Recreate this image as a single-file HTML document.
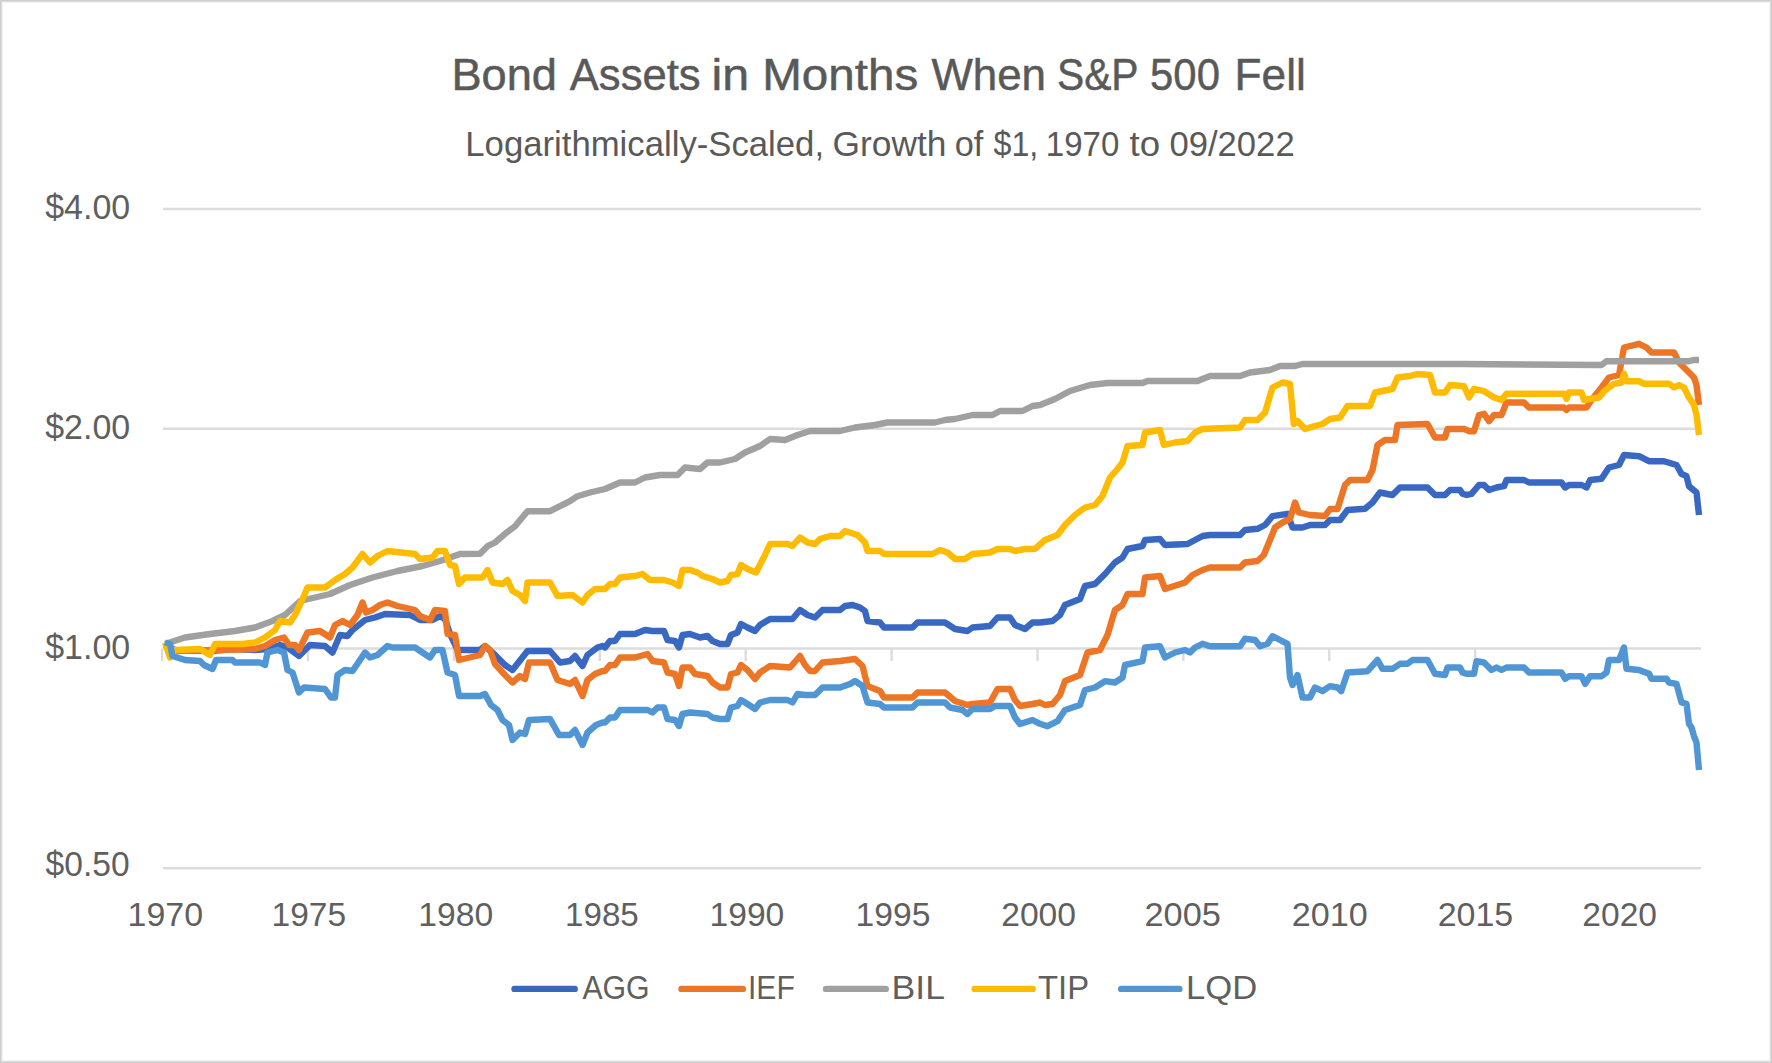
<!DOCTYPE html>
<html><head><meta charset="utf-8"><style>
html,body{margin:0;padding:0;background:#fff;}
body{width:1772px;height:1063px;position:relative;overflow:hidden;font-family:"Liberation Sans",sans-serif;}
.frame{position:absolute;left:0;top:0;width:1772px;height:1063px;box-sizing:border-box;box-shadow:inset 0 0 0 1px #cecece, inset 0 0 0 2px #dcdcdc, inset 0 0 0 3px #f3f3f3;z-index:5;}
</style></head><body>
<svg width="1772" height="1063" viewBox="0 0 1772 1063" style="position:absolute;left:0;top:0"><line x1="163" y1="209.0" x2="1701" y2="209.0" stroke="#DCDCDC" stroke-width="2.4"/><line x1="163" y1="428.8" x2="1701" y2="428.8" stroke="#DCDCDC" stroke-width="2.4"/><line x1="163" y1="648.5" x2="1701" y2="648.5" stroke="#DCDCDC" stroke-width="2.4"/><line x1="163" y1="868.2" x2="1701" y2="868.2" stroke="#DCDCDC" stroke-width="2.4"/><line x1="162.1" y1="648.5" x2="162.1" y2="661.0" stroke="#DCDCDC" stroke-width="2.4"/><line x1="308.0" y1="648.5" x2="308.0" y2="661.0" stroke="#DCDCDC" stroke-width="2.4"/><line x1="453.9" y1="648.5" x2="453.9" y2="661.0" stroke="#DCDCDC" stroke-width="2.4"/><line x1="599.8" y1="648.5" x2="599.8" y2="661.0" stroke="#DCDCDC" stroke-width="2.4"/><line x1="745.7" y1="648.5" x2="745.7" y2="661.0" stroke="#DCDCDC" stroke-width="2.4"/><line x1="891.6" y1="648.5" x2="891.6" y2="661.0" stroke="#DCDCDC" stroke-width="2.4"/><line x1="1037.5" y1="648.5" x2="1037.5" y2="661.0" stroke="#DCDCDC" stroke-width="2.4"/><line x1="1183.4" y1="648.5" x2="1183.4" y2="661.0" stroke="#DCDCDC" stroke-width="2.4"/><line x1="1329.3" y1="648.5" x2="1329.3" y2="661.0" stroke="#DCDCDC" stroke-width="2.4"/><line x1="1475.2" y1="648.5" x2="1475.2" y2="661.0" stroke="#DCDCDC" stroke-width="2.4"/><line x1="1621.1" y1="648.5" x2="1621.1" y2="661.0" stroke="#DCDCDC" stroke-width="2.4"/><polyline fill="none" stroke="#3868C2" stroke-width="6.4" stroke-linejoin="round" stroke-linecap="butt" points="165.0,645.0 175.0,650.0 210.0,651.0 235.0,649.0 255.0,650.0 267.5,649.0 280.0,645.0 287.5,647.5 299.0,656.0 310.0,645.0 325.0,646.0 332.5,652.5 340.0,635.0 347.5,636.0 352.5,630.0 365.0,620.0 375.0,617.5 385.0,614.0 410.0,615.0 420.0,620.0 432.5,620.0 440.0,616.0 445.0,619.0 450.0,634.0 457.5,650.0 480.0,650.0 485.0,646.0 495.0,655.0 505.0,665.0 512.5,670.0 527.5,651.0 550.0,651.0 560.0,662.5 570.0,661.0 575.0,656.0 582.5,666.0 587.5,655.0 597.5,647.5 602.5,646.0 605.0,647.5 610.0,641.0 615.0,641.0 620.0,634.0 635.0,634.0 645.0,630.0 652.5,631.0 664.0,631.0 667.5,640.0 675.0,641.0 679.0,647.5 682.5,635.0 690.0,634.0 700.0,637.5 707.5,636.0 712.5,641.0 720.0,644.0 727.5,644.0 731.0,635.0 737.5,632.5 741.0,624.0 747.5,627.5 755.0,631.0 760.0,625.0 770.0,619.0 792.5,619.0 800.0,610.0 807.5,615.0 815.0,617.5 822.5,610.0 840.0,610.0 845.0,606.0 852.5,605.0 860.0,607.5 865.0,611.0 867.5,621.0 880.0,622.5 884.0,627.5 912.5,627.5 917.5,622.5 945.0,622.5 955.0,629.0 967.5,631.0 972.5,627.5 990.0,626.0 997.5,617.5 1010.0,617.5 1015.0,625.0 1025.0,629.0 1032.5,622.5 1040.0,622.5 1052.5,621.0 1060.0,615.0 1065.0,605.0 1080.0,599.0 1085.0,586.0 1095.0,584.0 1105.0,574.0 1115.0,562.5 1122.5,557.5 1127.5,549.0 1142.5,546.0 1145.0,540.0 1160.0,539.0 1165.0,545.0 1187.5,544.0 1195.0,540.0 1202.5,536.0 1210.0,535.0 1240.0,535.0 1245.0,530.0 1257.5,528.8 1265.0,525.0 1272.5,516.2 1287.5,513.8 1292.5,527.5 1302.5,527.5 1310.0,525.0 1325.0,525.0 1330.0,520.0 1340.0,520.0 1347.5,510.0 1365.0,508.8 1372.5,502.5 1380.0,492.5 1392.5,495.0 1400.0,487.5 1427.5,487.5 1435.0,495.0 1445.0,495.0 1450.0,490.0 1460.0,490.0 1462.5,493.8 1466.5,495.0 1471.5,493.8 1479.0,485.0 1484.0,485.0 1489.0,490.0 1496.5,487.5 1504.0,486.2 1506.5,480.0 1524.0,480.0 1529.0,482.5 1561.5,482.5 1565.2,487.5 1569.0,485.0 1581.5,485.0 1586.5,487.5 1590.2,480.0 1601.5,478.8 1609.0,467.5 1619.0,465.0 1624.0,455.0 1639.0,456.2 1649.0,461.2 1664.0,461.2 1676.5,465.0 1681.5,473.8 1686.5,476.2 1689.0,486.2 1696.5,492.5 1699.0,515.0"/><polyline fill="none" stroke="#EC7626" stroke-width="6.4" stroke-linejoin="round" stroke-linecap="butt" points="165.0,645.0 175.0,651.0 255.0,649.0 265.0,646.0 275.0,640.0 284.0,637.5 289.0,645.0 295.0,645.0 299.0,650.0 307.5,632.5 320.0,631.0 330.0,637.5 335.0,625.0 342.5,621.0 350.0,625.0 357.5,615.0 362.5,602.5 366.0,612.5 372.5,610.0 380.0,605.0 387.5,602.5 397.5,606.0 415.0,610.0 420.0,616.0 430.0,620.0 435.0,610.0 445.0,611.0 447.5,634.0 455.0,635.0 459.0,660.0 480.0,655.0 485.0,646.0 490.0,650.0 495.0,664.0 505.0,675.0 512.5,682.5 520.0,676.0 525.0,679.0 529.0,662.5 550.0,662.5 557.5,680.0 570.0,684.0 575.0,680.0 582.5,696.0 587.5,680.0 595.0,674.0 602.5,671.0 605.0,671.0 610.0,665.0 615.0,665.0 620.0,657.5 635.0,657.5 647.5,654.0 652.5,661.0 664.0,662.5 667.5,672.5 675.0,674.0 679.0,686.0 682.5,667.5 690.0,667.5 695.0,674.0 707.5,676.0 712.5,682.5 720.0,687.5 727.5,687.5 731.0,674.0 737.5,672.5 741.0,665.0 747.5,670.0 755.0,679.0 760.0,672.5 770.0,666.0 790.0,667.5 800.0,656.0 805.0,665.0 810.0,671.0 815.0,671.0 822.5,662.5 840.0,661.0 855.0,659.0 862.5,666.0 867.5,686.0 880.0,691.0 884.0,697.5 912.5,697.5 917.5,692.5 945.0,692.5 955.0,701.0 967.5,705.0 972.5,704.0 990.0,702.5 997.5,689.0 1010.0,689.0 1015.0,700.0 1020.0,706.0 1032.5,704.0 1040.0,702.5 1045.0,705.0 1052.5,704.0 1060.0,695.0 1065.0,681.0 1080.0,675.0 1087.5,652.5 1100.0,650.0 1107.5,635.0 1115.0,610.0 1122.5,605.0 1127.5,594.0 1142.5,594.0 1145.0,577.5 1160.0,576.0 1165.0,589.0 1185.0,582.5 1192.5,575.0 1202.5,570.0 1210.0,567.5 1240.0,567.5 1245.0,562.5 1257.5,561.0 1263.8,555.0 1270.0,540.0 1275.0,527.5 1282.5,522.5 1290.0,519.0 1295.0,502.5 1298.8,512.5 1310.0,515.0 1325.0,516.0 1330.0,509.0 1337.5,509.0 1345.0,485.0 1350.0,480.0 1367.5,480.0 1372.5,470.0 1377.5,445.0 1385.0,440.0 1395.0,440.0 1397.5,425.0 1427.5,424.0 1435.0,437.5 1445.0,437.5 1447.5,429.0 1462.5,429.0 1464.0,428.8 1469.0,431.2 1474.0,431.2 1479.0,415.0 1484.0,413.8 1489.0,421.2 1494.0,415.0 1501.5,415.0 1506.5,402.5 1524.0,402.5 1529.0,407.5 1564.0,407.5 1566.5,410.0 1569.0,407.5 1586.5,407.5 1591.5,400.0 1601.5,387.5 1609.0,377.5 1619.0,375.0 1624.0,347.5 1639.0,343.8 1646.5,347.5 1651.5,352.5 1674.0,352.5 1679.0,362.5 1686.5,370.0 1694.0,377.5 1696.5,385.0 1699.0,405.0"/><polyline fill="none" stroke="#A0A0A0" stroke-width="6.4" stroke-linejoin="round" stroke-linecap="butt" points="165.0,644.0 185.0,637.5 210.0,634.0 235.0,631.0 255.0,627.5 272.5,621.0 285.0,615.0 300.0,601.0 315.0,597.5 330.0,594.0 350.0,585.0 372.5,577.5 397.5,571.0 422.5,566.0 440.0,561.0 460.0,554.0 480.0,553.8 487.5,546.2 495.0,542.5 505.0,533.8 515.0,526.2 527.5,511.2 550.0,511.2 560.0,506.2 570.0,501.2 577.5,496.2 590.0,492.5 605.0,489.0 620.0,482.5 635.0,482.5 645.0,477.5 660.0,475.0 677.5,475.0 685.0,467.5 700.0,469.0 707.5,462.5 720.0,462.5 735.0,459.0 745.0,452.5 760.0,446.0 770.0,439.0 785.0,440.0 797.5,435.0 810.0,431.0 840.0,431.0 855.0,427.5 875.0,425.0 887.5,422.5 935.0,422.5 945.0,420.0 955.0,419.0 972.5,415.0 992.5,415.0 1000.0,411.0 1022.5,411.0 1032.5,406.0 1040.0,405.0 1055.0,399.0 1070.0,391.0 1090.0,385.0 1107.5,383.0 1142.5,383.0 1147.5,381.0 1197.5,381.0 1210.0,376.0 1240.0,376.0 1250.0,372.5 1270.0,370.0 1280.0,366.0 1295.0,366.0 1302.5,364.0 1462.5,364.0 1601.5,365.0 1606.5,361.2 1689.0,361.2 1694.0,360.0 1699.0,360.0"/><polyline fill="none" stroke="#FFBB00" stroke-width="6.4" stroke-linejoin="round" stroke-linecap="butt" points="165.0,642.5 170.0,657.5 175.0,650.0 200.0,649.0 210.0,655.0 215.0,644.0 242.5,644.0 255.0,642.5 265.0,637.5 275.0,630.0 280.0,621.0 290.0,622.5 295.0,615.0 301.0,602.5 307.5,587.5 325.0,587.5 335.0,580.0 345.0,574.0 352.5,567.5 362.5,554.0 370.0,562.5 377.5,556.0 387.5,551.0 415.0,554.0 420.0,559.0 432.5,557.5 437.5,551.0 445.0,551.0 450.0,565.0 455.0,566.0 459.0,584.0 465.0,577.5 482.5,577.5 487.5,570.0 492.5,582.5 502.5,584.0 507.5,580.0 512.5,591.0 520.0,595.0 525.0,601.0 527.5,582.5 550.0,582.5 557.5,596.0 572.5,595.0 582.5,602.5 587.5,595.0 595.0,589.0 602.5,589.0 605.0,589.0 610.0,584.0 615.0,584.0 620.0,577.5 635.0,576.0 642.5,574.0 650.0,580.0 664.0,580.0 672.5,582.5 679.0,586.0 682.5,570.0 690.0,570.0 697.5,572.5 702.5,576.0 712.5,579.0 720.0,582.5 727.5,581.0 731.0,575.0 737.5,574.0 741.0,565.0 747.5,569.0 756.0,572.5 765.0,555.0 770.0,544.0 787.5,544.0 792.5,546.0 800.0,537.5 807.5,542.5 815.0,544.0 820.0,539.0 830.0,536.0 840.0,536.0 845.0,531.0 857.5,535.0 865.0,542.5 867.5,551.0 880.0,551.0 884.0,554.0 932.5,554.0 940.0,550.0 947.5,552.5 955.0,559.0 965.0,559.0 972.5,554.0 990.0,552.5 997.5,549.0 1010.0,549.0 1015.0,551.0 1025.0,549.0 1032.5,549.0 1035.0,548.8 1045.0,540.0 1057.5,535.0 1065.0,525.0 1075.0,515.0 1085.0,507.5 1095.0,505.0 1102.5,496.0 1110.0,477.5 1117.5,469.0 1122.5,462.5 1127.5,446.0 1142.5,445.0 1145.0,432.5 1160.0,430.0 1163.8,445.0 1175.0,442.5 1187.5,441.0 1195.0,432.5 1202.5,429.0 1240.0,427.5 1245.0,420.0 1257.5,420.0 1265.0,412.5 1272.5,387.5 1282.5,382.5 1290.0,384.0 1293.8,424.0 1297.5,421.0 1305.0,429.0 1315.0,426.0 1322.5,424.0 1330.0,419.0 1340.0,417.5 1347.5,406.0 1370.0,406.0 1375.0,392.5 1392.5,389.0 1397.5,377.5 1410.0,376.0 1417.5,374.0 1430.0,375.0 1435.0,392.5 1445.0,392.5 1450.0,385.0 1462.5,386.0 1464.0,386.2 1469.0,397.5 1474.0,388.8 1484.0,391.2 1494.0,397.5 1501.5,400.0 1506.5,393.8 1564.0,393.8 1566.5,398.8 1569.0,392.5 1581.5,392.5 1584.0,400.0 1599.0,397.5 1604.0,391.2 1614.0,383.8 1621.5,382.5 1624.0,373.8 1626.5,381.2 1639.0,381.2 1644.0,383.8 1669.0,383.8 1674.0,387.5 1679.0,385.0 1684.0,387.5 1689.0,397.5 1694.0,405.0 1696.5,415.0 1699.0,435.0"/><polyline fill="none" stroke="#5096D4" stroke-width="6.4" stroke-linejoin="round" stroke-linecap="butt" points="165.0,642.5 170.0,644.0 172.5,656.0 185.0,660.0 200.0,661.0 204.0,665.0 212.5,669.0 216.0,660.0 232.5,660.0 235.0,662.5 260.0,662.5 265.0,665.0 267.5,652.5 277.5,650.0 284.0,652.5 287.5,670.0 292.5,672.5 299.0,692.5 304.0,687.5 325.0,689.0 331.0,697.5 335.0,697.5 337.5,675.0 345.0,670.0 352.5,671.0 360.0,660.0 365.0,652.5 370.0,657.5 377.5,655.0 387.5,646.0 392.5,647.5 415.0,647.5 422.5,652.5 430.0,657.5 435.0,650.0 442.5,650.0 447.5,672.5 455.0,675.0 459.0,696.0 480.0,696.0 485.0,694.0 491.0,705.0 497.5,710.0 502.5,720.0 509.0,725.0 512.5,740.0 520.0,732.5 525.0,734.0 529.0,720.0 550.0,719.0 559.0,735.0 570.0,735.0 575.0,730.0 582.5,745.0 587.5,732.5 596.0,725.0 602.5,722.5 605.0,722.5 610.0,717.5 615.0,717.5 620.0,710.0 647.5,710.0 652.5,712.5 657.5,707.5 664.0,707.5 667.5,719.0 675.0,720.0 679.0,726.0 682.5,714.0 690.0,712.5 707.5,714.0 712.5,717.5 720.0,719.0 727.5,719.0 731.0,707.5 737.5,706.0 741.0,700.0 747.5,704.0 755.0,709.0 760.0,702.5 770.0,700.0 787.5,700.0 792.5,702.5 797.5,694.0 805.0,695.0 815.0,695.0 822.5,687.5 840.0,687.5 850.0,684.0 855.0,681.0 862.5,686.0 867.5,702.5 880.0,704.0 884.0,707.5 912.5,707.5 917.5,702.5 945.0,702.5 950.0,707.5 962.5,710.0 967.5,714.0 972.5,709.0 990.0,709.0 995.0,706.0 1010.0,706.0 1015.0,717.5 1020.0,724.0 1032.5,720.0 1040.0,723.8 1047.5,726.2 1057.5,721.2 1065.0,710.0 1080.0,705.0 1085.0,690.0 1095.0,687.5 1105.0,681.2 1115.0,682.5 1122.5,677.5 1125.0,665.0 1142.5,661.2 1145.0,647.5 1160.0,646.2 1165.0,657.5 1175.0,652.5 1185.0,650.0 1190.0,652.5 1195.0,647.5 1202.5,643.8 1210.0,646.2 1240.0,646.2 1245.0,638.8 1255.0,640.0 1260.0,646.2 1267.5,643.8 1272.5,636.2 1280.0,640.0 1287.5,643.8 1290.0,677.5 1292.5,685.0 1297.5,675.0 1302.5,697.5 1310.0,697.5 1315.0,687.5 1322.5,691.2 1330.0,686.2 1337.5,687.5 1341.2,691.2 1347.5,672.5 1367.5,671.2 1377.5,660.0 1382.5,668.8 1392.5,668.8 1400.0,663.8 1407.5,663.8 1412.5,660.0 1427.5,660.0 1435.0,673.8 1445.0,675.0 1447.5,667.5 1460.0,667.5 1462.5,672.5 1466.5,673.8 1474.0,673.8 1476.5,661.2 1484.0,662.5 1491.5,670.0 1496.5,667.5 1501.5,670.0 1506.5,667.5 1524.0,667.5 1529.0,672.5 1561.5,672.5 1565.2,678.8 1569.0,676.2 1581.5,676.2 1585.2,683.8 1590.2,676.2 1601.5,676.2 1606.5,672.5 1609.0,660.0 1619.0,660.0 1624.0,647.5 1626.5,668.8 1639.0,670.0 1649.0,673.8 1651.5,678.8 1666.5,678.8 1669.0,682.5 1676.5,683.8 1681.5,702.5 1686.5,703.8 1689.0,723.8 1691.5,727.5 1694.0,736.2 1696.5,742.5 1699.0,770.0"/><text x="451.44" y="89.5" textLength="105.54" lengthAdjust="spacingAndGlyphs" font-family="Liberation Sans" font-size="44.33" fill="#595959" stroke="#595959" stroke-width="0.5" stroke-linejoin="round">Bond</text><text x="569.80" y="89.5" textLength="130.81" lengthAdjust="spacingAndGlyphs" font-family="Liberation Sans" font-size="44.33" fill="#595959" stroke="#595959" stroke-width="0.5" stroke-linejoin="round">Assets</text><text x="711.43" y="89.5" textLength="37.61" lengthAdjust="spacingAndGlyphs" font-family="Liberation Sans" font-size="44.33" fill="#595959" stroke="#595959" stroke-width="0.5" stroke-linejoin="round">in</text><text x="762.28" y="89.5" textLength="155.89" lengthAdjust="spacingAndGlyphs" font-family="Liberation Sans" font-size="44.33" fill="#595959" stroke="#595959" stroke-width="0.5" stroke-linejoin="round">Months</text><text x="931.40" y="89.5" textLength="114.59" lengthAdjust="spacingAndGlyphs" font-family="Liberation Sans" font-size="44.33" fill="#595959" stroke="#595959" stroke-width="0.5" stroke-linejoin="round">When</text><text x="1056.96" y="89.5" textLength="81.61" lengthAdjust="spacingAndGlyphs" font-family="Liberation Sans" font-size="44.33" fill="#595959" stroke="#595959" stroke-width="0.5" stroke-linejoin="round">S&amp;P</text><text x="1150.11" y="89.5" textLength="69.80" lengthAdjust="spacingAndGlyphs" font-family="Liberation Sans" font-size="44.33" fill="#595959" stroke="#595959" stroke-width="0.5" stroke-linejoin="round">500</text><text x="1234.61" y="89.5" textLength="71.22" lengthAdjust="spacingAndGlyphs" font-family="Liberation Sans" font-size="44.33" fill="#595959" stroke="#595959" stroke-width="0.5" stroke-linejoin="round">Fell</text><text x="465.32" y="155.6" textLength="358.72" lengthAdjust="spacingAndGlyphs" font-family="Liberation Sans" font-size="34.88" fill="#595959" >Logarithmically-Scaled,</text><text x="832.47" y="155.6" textLength="113.98" lengthAdjust="spacingAndGlyphs" font-family="Liberation Sans" font-size="34.88" fill="#595959" >Growth</text><text x="954.82" y="155.6" textLength="28.59" lengthAdjust="spacingAndGlyphs" font-family="Liberation Sans" font-size="34.88" fill="#595959" >of</text><text x="993.50" y="155.6" textLength="44.69" lengthAdjust="spacingAndGlyphs" font-family="Liberation Sans" font-size="34.88" fill="#595959" >$1,</text><text x="1045.80" y="155.6" textLength="73.56" lengthAdjust="spacingAndGlyphs" font-family="Liberation Sans" font-size="34.88" fill="#595959" >1970</text><text x="1129.50" y="155.6" textLength="30.55" lengthAdjust="spacingAndGlyphs" font-family="Liberation Sans" font-size="34.88" fill="#595959" >to</text><text x="1169.41" y="155.6" textLength="125.26" lengthAdjust="spacingAndGlyphs" font-family="Liberation Sans" font-size="34.88" fill="#595959" >09/2022</text><text x="45.20" y="219.3" textLength="85.08" lengthAdjust="spacingAndGlyphs" font-family="Liberation Sans" font-size="34.16" fill="#5f5f5f" >$4.00</text><text x="45.20" y="439.0" textLength="85.08" lengthAdjust="spacingAndGlyphs" font-family="Liberation Sans" font-size="34.16" fill="#5f5f5f" >$2.00</text><text x="45.20" y="659.0" textLength="85.08" lengthAdjust="spacingAndGlyphs" font-family="Liberation Sans" font-size="34.16" fill="#5f5f5f" >$1.00</text><text x="45.60" y="876.3" textLength="84.16" lengthAdjust="spacingAndGlyphs" font-family="Liberation Sans" font-size="34.16" fill="#5f5f5f" >$0.50</text><text x="582.40" y="999.0" textLength="67.25" lengthAdjust="spacingAndGlyphs" font-family="Liberation Sans" font-size="33.72" fill="#5f5f5f" >AGG</text><text x="747.92" y="999.0" textLength="46.89" lengthAdjust="spacingAndGlyphs" font-family="Liberation Sans" font-size="33.72" fill="#5f5f5f" >IEF</text><text x="891.53" y="999.0" textLength="53.43" lengthAdjust="spacingAndGlyphs" font-family="Liberation Sans" font-size="33.72" fill="#5f5f5f" >BIL</text><text x="1038.03" y="999.0" textLength="51.10" lengthAdjust="spacingAndGlyphs" font-family="Liberation Sans" font-size="33.72" fill="#5f5f5f" >TIP</text><text x="1185.92" y="999.0" textLength="71.26" lengthAdjust="spacingAndGlyphs" font-family="Liberation Sans" font-size="33.72" fill="#5f5f5f" >LQD</text><text x="127.60" y="925.9" textLength="75.54" lengthAdjust="spacingAndGlyphs" font-family="Liberation Sans" font-size="34.01" fill="#5f5f5f" >1970</text><text x="271.53" y="925.9" textLength="74.50" lengthAdjust="spacingAndGlyphs" font-family="Liberation Sans" font-size="34.01" fill="#5f5f5f" >1975</text><text x="418.32" y="925.9" textLength="74.92" lengthAdjust="spacingAndGlyphs" font-family="Liberation Sans" font-size="34.01" fill="#5f5f5f" >1980</text><text x="565.05" y="925.9" textLength="73.67" lengthAdjust="spacingAndGlyphs" font-family="Liberation Sans" font-size="34.01" fill="#5f5f5f" >1985</text><text x="709.52" y="925.9" textLength="74.81" lengthAdjust="spacingAndGlyphs" font-family="Liberation Sans" font-size="34.01" fill="#5f5f5f" >1990</text><text x="855.62" y="925.9" textLength="74.81" lengthAdjust="spacingAndGlyphs" font-family="Liberation Sans" font-size="34.01" fill="#5f5f5f" >1995</text><text x="1001.22" y="925.9" textLength="74.81" lengthAdjust="spacingAndGlyphs" font-family="Liberation Sans" font-size="34.01" fill="#5f5f5f" >2000</text><text x="1144.48" y="925.9" textLength="76.47" lengthAdjust="spacingAndGlyphs" font-family="Liberation Sans" font-size="34.01" fill="#5f5f5f" >2005</text><text x="1291.69" y="925.9" textLength="75.95" lengthAdjust="spacingAndGlyphs" font-family="Liberation Sans" font-size="34.01" fill="#5f5f5f" >2010</text><text x="1437.70" y="925.9" textLength="75.54" lengthAdjust="spacingAndGlyphs" font-family="Liberation Sans" font-size="34.01" fill="#5f5f5f" >2015</text><text x="1582.33" y="925.9" textLength="74.60" lengthAdjust="spacingAndGlyphs" font-family="Liberation Sans" font-size="34.01" fill="#5f5f5f" >2020</text><line x1="514.5" y1="988.9" x2="574.6999999999999" y2="988.9" stroke="#3868C2" stroke-width="6.4" stroke-linecap="round"/><line x1="681.5" y1="988.9" x2="742.8" y2="988.9" stroke="#EC7626" stroke-width="6.4" stroke-linecap="round"/><line x1="826.0" y1="988.9" x2="885.8" y2="988.9" stroke="#A0A0A0" stroke-width="6.4" stroke-linecap="round"/><line x1="974.6" y1="988.9" x2="1032.6" y2="988.9" stroke="#FFBB00" stroke-width="6.4" stroke-linecap="round"/><line x1="1121.2" y1="988.9" x2="1179.3" y2="988.9" stroke="#5096D4" stroke-width="6.4" stroke-linecap="round"/></svg>
<div class="frame"></div>
</body></html>
